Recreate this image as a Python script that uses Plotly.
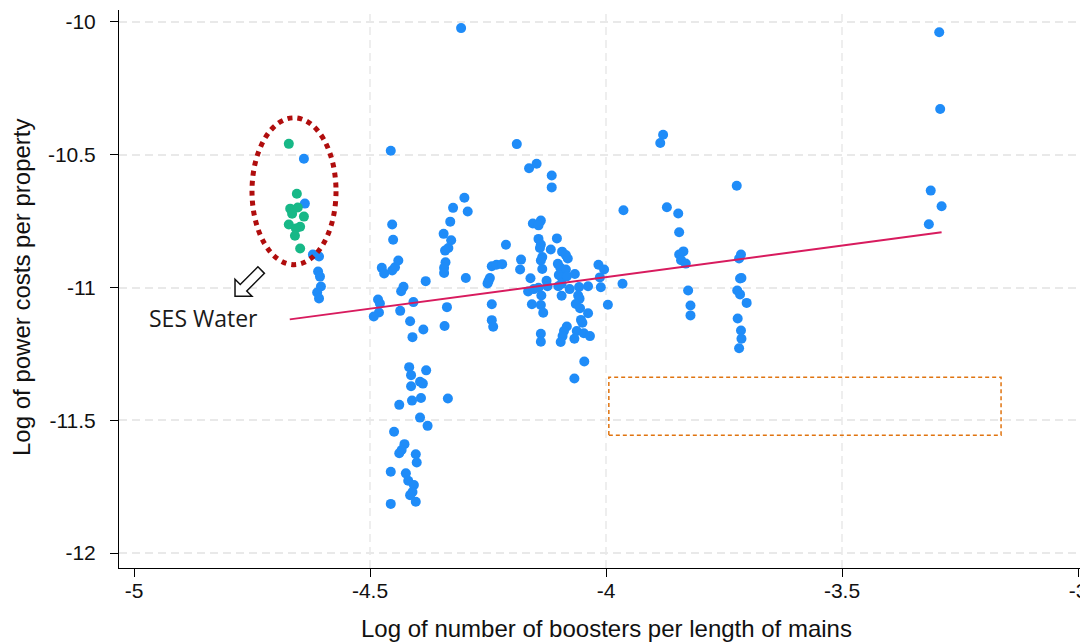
import numpy as np
import plotly.graph_objects as go

# ---------------- data ----------------
blue_x = [
    -4.640, -4.638, -4.621, -4.608, -4.610, -4.606, -4.604, -4.612, -4.608,
    -4.483, -4.479, -4.481, -4.492,
    -4.456, -4.453, -4.451, -4.475, -4.470, -4.453, -4.447, -4.440, -4.429, -4.434,
    -4.382, -4.436, -4.408, -4.415, -4.387, -4.410, -4.417, -4.413, -4.381, -4.413,
    -4.394, -4.388, -4.438, -4.411, -4.392, -4.335, -4.394, -4.378, -4.449, -4.427,
    -4.433, -4.438, -4.403, -4.401, -4.456, -4.424, -4.419, -4.407, -4.410, -4.415,
    -4.403, -4.456,
    -4.307, -4.300, -4.324, -4.293, -4.330, -4.344, -4.328, -4.334, -4.341, -4.340,
    -4.343, -4.343, -4.297, -4.337, -4.342,
    -4.189, -4.163, -4.147, -4.115, -4.115, -3.963, -4.155, -4.138, -4.143, -4.143,
    -4.138, -4.140, -4.104, -4.117, -4.212, -4.135, -4.138, -4.135, -4.180, -4.182,
    -4.242, -4.232, -4.220, -4.246, -4.249, -4.251, -4.160, -4.126, -4.124, -4.093,
    -4.085, -4.081, -4.102, -4.097, -4.092, -4.085, -4.100, -4.094, -4.083, -4.066,
    -4.016, -4.004, -4.013, -4.011, -3.965, -4.165, -4.153, -4.143, -4.137, -4.101,
    -4.094, -4.094, -4.077, -4.057, -4.038, -4.059, -4.056, -4.064, -4.055, -4.157,
    -4.138, -4.133, -4.242, -4.242, -4.239, -3.996, -4.038, -4.053, -4.050, -4.083,
    -4.089, -4.092, -4.096, -4.062, -4.047, -4.034, -4.067, -4.138, -4.138, -4.046,
    -4.067,
    -3.879, -3.885, -3.871, -3.847, -3.845, -3.836, -3.845, -3.841, -3.831, -3.826,
    -3.821, -3.821,
    -3.723, -3.714, -3.718, -3.716, -3.713, -3.722, -3.716, -3.702, -3.721, -3.714,
    -3.713, -3.718,
    -3.294, -3.292, -3.312, -3.289, -3.316,
]
blue_y = [
    -10.515, -10.684, -10.876, -10.883, -10.940, -10.959, -10.996, -11.019, -11.041,
    -11.045, -11.060, -11.094, -11.109,
    -10.485, -10.763, -10.820, -10.926, -10.947, -10.936, -10.924, -10.898, -10.997, -11.014,
    -10.976, -11.088, -11.055, -11.127, -11.158, -11.187, -11.300, -11.330, -11.312, -11.372,
    -11.355, -11.362, -11.442, -11.426, -11.416, -11.418, -11.490, -11.521, -11.543, -11.590,
    -11.612, -11.624, -11.628, -11.659, -11.694, -11.700, -11.728, -11.744, -11.770, -11.782,
    -11.807, -11.815,
    -10.023, -10.662, -10.700, -10.714, -10.752, -10.798, -10.822, -10.851, -10.861, -10.905,
    -10.926, -10.945, -10.964, -11.074, -11.145,
    -10.460, -10.551, -10.534, -10.578, -10.623, -10.709, -10.759, -10.748, -10.766, -10.817,
    -10.838, -10.851, -10.815, -10.857, -10.839, -10.885, -10.898, -10.930, -10.895, -10.932,
    -10.920, -10.914, -10.912, -10.964, -10.976, -10.985, -10.965, -10.975, -10.995, -10.865,
    -10.878, -10.891, -10.911, -10.925, -10.936, -10.932, -10.953, -10.961, -10.958, -10.949,
    -10.914, -10.932, -10.962, -10.999, -10.986, -11.015, -11.006, -11.001, -11.030, -10.995,
    -10.986, -11.031, -11.006, -10.998, -10.995, -11.030, -11.042, -11.062, -11.078, -11.063,
    -11.066, -11.095, -11.063, -11.123, -11.148, -11.065, -11.097, -11.122, -11.133, -11.147,
    -11.164, -11.183, -11.205, -11.164, -11.172, -11.183, -11.193, -11.174, -11.204, -11.279,
    -11.343,
    -10.425, -10.456, -10.698, -10.721, -10.792, -10.864, -10.876, -10.897, -10.910, -11.011,
    -11.068, -11.105,
    -10.617, -10.876, -10.891, -10.966, -10.964, -11.011, -11.026, -11.058, -11.117, -11.162,
    -11.193, -11.229,
    -10.039, -10.328, -10.635, -10.694, -10.762,
]

green_x = [-4.672, -4.655, -4.669, -4.653, -4.665, -4.640, -4.672, -4.648, -4.657, -4.659, -4.648]
green_y = [-10.459, -10.647, -10.703, -10.699, -10.722, -10.733, -10.763, -10.771, -10.778, -10.805, -10.853]

fit_x = [-4.670, -3.289]
fit_y = [-11.120, -10.792]

x_ticks = [-5, -4.5, -4, -3.5, -3]
x_tick_labels = ["-5", "-4.5", "-4", "-3.5", "-3"]
x_grid = [-4.5, -4, -3.5]
y_ticks = [-12, -11.5, -11, -10.5, -10]
y_tick_labels = ["-12", "-11.5", "-11", "-10.5", "-10"]

x_title = "Log of number of boosters per length of mains"
y_title = "Log of power costs per property"
note_text = "SES Water"

# highlighted regions (data units)
ellipse_box = dict(x0=-4.750, x1=-4.572, y0=-10.914, y1=-10.361)
rect_box = dict(x0=-3.994, x1=-3.163, y0=-11.556, y1=-11.338)
arrow_tip = (-4.786, -11.033)
note_pos = (-4.972, -11.115)

# ---------------- figure ----------------
# the page body adds an 8px margin, so the figure is 8px smaller than the window
W, H = 1080, 635
ML, MR, MT, MB = 111, 0, 2, 75

BLUE = "#1f8cf8"
GREEN = "#17b887"
FONT = "Liberation Sans, Arial, sans-serif"
GRID_COLOR = "#e9e9e9"
GRID_DASH = "8px,5px"

fig = go.Figure()
fig.add_trace(go.Scatter(x=blue_x, y=blue_y, mode="markers",
                         marker=dict(color=BLUE, size=10, line=dict(width=0)),
                         showlegend=False, hoverinfo="x+y"))
fig.add_trace(go.Scatter(x=green_x, y=green_y, mode="markers",
                         marker=dict(color=GREEN, size=10, line=dict(width=0)),
                         showlegend=False, hoverinfo="x+y"))
fig.add_trace(go.Scatter(x=fit_x, y=fit_y, mode="lines",
                         line=dict(color="#d81b5e", width=2),
                         showlegend=False, hoverinfo="skip"))

# vertical grid lines only at interior ticks
for gx in x_grid:
    fig.add_shape(type="line", xref="x", yref="paper", x0=gx, x1=gx, y0=0, y1=1,
                  line=dict(color=GRID_COLOR, width=1.5, dash=GRID_DASH), layer="below")

# dotted ellipse
fig.add_shape(type="circle", xref="x", yref="y", **ellipse_box,
              line=dict(color="#b00d0d", width=5, dash="dot"), layer="above")
# dashed rectangle
fig.add_shape(type="rect", xref="x", yref="y", **rect_box,
              line=dict(color="#e07410", width=1.5, dash="4px,3px"), layer="above")

# hollow block arrow (pixel geometry around its tip)
d = np.array([-1.0, 1.0]) / np.sqrt(2)   # screen direction tail -> tip
n = np.array([1.0, 1.0]) / np.sqrt(2)
hl, hw, sw, L = 12.0, 12.0, 4.6, 37.0
pts = [np.zeros(2), -hl * d + hw * n, -hl * d + sw * n, -L * d + sw * n,
       -L * d - sw * n, -hl * d - sw * n, -hl * d - hw * n]
path = "M " + " L ".join(f"{p[0]:.2f},{-p[1]:.2f}" for p in pts) + " Z"
fig.add_shape(type="path", xref="x", yref="y", xsizemode="pixel", ysizemode="pixel",
              xanchor=arrow_tip[0], yanchor=arrow_tip[1], path=path,
              line=dict(color="#111111", width=1.5), fillcolor="white", layer="above")

fig.add_annotation(x=note_pos[0], y=note_pos[1], xref="x", yref="y", text=note_text,
                   showarrow=False, xanchor="left", yanchor="middle",
                   font=dict(family="Open Sans, Noto Sans, sans-serif", size=23, color="#1a1a1a"))

# axis titles as annotations for exact placement (figure pixel coords)
pw = W - ML - MR
ph = H - MT - MB
fig.add_annotation(x=(598 - ML) / pw, y=(H - MB - 620) / ph, xref="paper", yref="paper",
                   text=x_title, showarrow=False, xanchor="center", yanchor="middle",
                   font=dict(family=FONT, size=24, color="#111111"))
fig.add_annotation(x=(13 - ML) / pw, y=(H - MB - 279) / ph, xref="paper", yref="paper",
                   text=y_title, showarrow=False, xanchor="center", yanchor="middle",
                   textangle=-90, font=dict(family=FONT, size=24, color="#111111"))

fig.update_xaxes(range=[-5 - 15 / 472, -5 + (W - ML - 15) / 472], tickvals=x_ticks,
                 ticktext=x_tick_labels, showgrid=False,
                 ticks="outside", ticklen=8, tickcolor="black", tickwidth=1,
                 showline=True, linecolor="black", linewidth=1, zeroline=False,
                 tickfont=dict(family=FONT, size=21, color="#111111"), ticklabelstandoff=-4)
fig.update_yaxes(range=[-12 - 15 / 266, -10 + 12 / 266], tickvals=y_ticks, ticktext=y_tick_labels,
                 ticks="outside", ticklen=8, tickcolor="black", tickwidth=1,
                 showline=True, linecolor="black", linewidth=1, zeroline=False,
                 tickfont=dict(family=FONT, size=21, color="#111111"), ticklabelstandoff=10,
                 showgrid=True, gridcolor=GRID_COLOR, gridwidth=1.5, griddash=GRID_DASH)

fig.update_layout(width=W, height=H, margin=dict(l=ML, r=MR, t=MT, b=MB, autoexpand=False),
                  plot_bgcolor="white", paper_bgcolor="white", showlegend=False)

fig.write_html("out.html")
